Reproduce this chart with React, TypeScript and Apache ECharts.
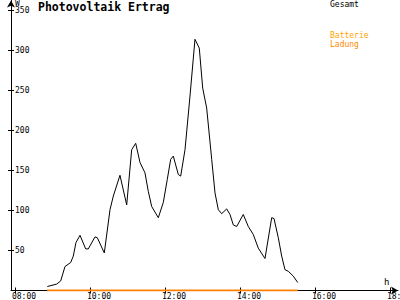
import React, { useEffect, useRef } from "react";
import * as echarts from "echarts";

const hours = [
  8.843, 9.093, 9.2, 9.315, 9.467, 9.536, 9.608, 9.715, 9.867, 9.936, 10.115, 10.176,
  10.363, 10.515, 10.603, 10.781, 10.96, 11.093, 11.2, 11.315, 11.448, 11.536, 11.627,
  11.803, 11.936, 12.043, 12.133, 12.203, 12.336, 12.4, 12.515, 12.648, 12.781, 12.896,
  12.987, 13.093, 13.227, 13.315, 13.403, 13.493, 13.627, 13.715, 13.803, 13.893, 14.069,
  14.203, 14.336, 14.469, 14.648, 14.827, 14.888, 15.003, 15.093, 15.181, 15.269, 15.403,
  15.52,
];
const gesamt = [
  5, 8, 12, 30, 35, 43, 60, 69, 52, 52, 67, 66,
  47, 101, 118, 144, 107, 176, 184, 160, 147, 124, 105,
  91, 110, 139, 164, 168, 145, 143, 176, 243, 314, 303,
  253, 228, 164, 122, 101, 96, 102, 95, 82, 80, 95,
  80, 70, 53, 40, 91, 90, 66, 43, 26, 24, 18,
  10,
];
const batteryHours = [8.84, 15.52];
const batteryValues = [0, 0];
const yTicks = [50, 100, 150, 200, 250, 300, 350];
const xTicks = [8, 10, 12, 14, 16, 18];

const MONO = "'DejaVu Sans Mono', monospace";
const X_MIN = 7.875;
const X_MAX = 18.195;
const Y_MAX = 362.5;

export default function App() {
  const ref = useRef<HTMLDivElement>(null);
  useEffect(() => {
    if (!ref.current) return;
    const chart = echarts.init(ref.current, null, { renderer: "svg" });
    const fmt = (v: number) => String(v).padStart(2, "0") + ":00";
    chart.setOption({
      animation: false,
      backgroundColor: "#fff",
      title: {
        text: "Photovoltaik Ertrag",
        left: 38,
        top: 1,
        padding: 0,
        textStyle: { fontFamily: MONO, fontWeight: "bold", fontSize: 11.5, color: "#000" },
      },
      legend: [
        {
          data: [{ name: "Gesamt", textStyle: { color: "#000" } }],
          left: 325,
          top: 0,
          padding: 0,
          icon: "none",
          itemWidth: 0,
          itemHeight: 0,
          selectedMode: false,
          textStyle: { fontFamily: MONO, fontSize: 8 },
        },
        {
          data: [{ name: "Batterie Ladung" }],
          left: 325,
          top: 31,
          padding: 0,
          icon: "none",
          itemWidth: 0,
          itemHeight: 0,
          selectedMode: false,
          formatter: () => "{a|Batterie}\n{b|Ladung}",
          textStyle: {
            fontFamily: MONO,
            fontSize: 8,
            rich: {
              a: { color: "#ffa500", fontFamily: MONO, fontSize: 8, lineHeight: 9 },
              b: { color: "#ff8800", fontFamily: MONO, fontSize: 8, lineHeight: 9 },
            },
          },
        },
      ],
      grid: {
        left: 11,
        right: 2,
        top: 0.5,
        bottom: 9.5,
        containLabel: false,
        outerBoundsMode: "none",
      },
      xAxis: [
        {
          type: "value",
          position: "bottom",
          min: X_MIN,
          max: X_MAX,
          axisLine: {
            show: true,
            onZero: false,
            symbol: ["none", "arrow"],
            symbolSize: [6, 7],
            lineStyle: { color: "#000", width: 1 },
          },
          axisTick: { show: false },
          axisLabel: { show: false },
          splitLine: { show: false },
        },
        {
          type: "value",
          position: "bottom",
          min: X_MIN,
          max: X_MAX,
          offset: -3,
          axisLine: { show: false, onZero: false },
          axisTick: { show: true, length: 6, customValues: xTicks, lineStyle: { color: "#000" } },
          axisLabel: { show: false },
          splitLine: { show: false },
        },
        {
          type: "value",
          position: "bottom",
          min: X_MIN + 0.1,
          max: X_MAX + 0.1,
          axisLine: { show: false, onZero: false },
          axisTick: { show: false },
          axisLabel: {
            show: true,
            customValues: xTicks,
            formatter: fmt,
            align: "left",
            margin: 2,
            fontFamily: MONO,
            fontSize: 8,
            color: "#000",
          },
          splitLine: { show: false },
        },
      ],
      yAxis: [
        {
          type: "value",
          position: "left",
          min: 0,
          max: Y_MAX,
          axisLine: {
            show: true,
            onZero: false,
            symbol: ["none", "arrow"],
            symbolSize: [6, 7],
            lineStyle: { color: "#000", width: 1 },
          },
          axisTick: { show: false },
          axisLabel: {
            show: true,
            inside: true,
            customValues: yTicks,
            margin: 4,
            fontFamily: MONO,
            fontSize: 8,
            color: "#000",
          },
          splitLine: { show: false },
        },
        {
          type: "value",
          position: "left",
          min: 0,
          max: Y_MAX,
          offset: -3,
          axisLine: { show: false, onZero: false },
          axisTick: { show: true, length: 6, customValues: yTicks, lineStyle: { color: "#000" } },
          axisLabel: { show: false },
          splitLine: { show: false },
        },
      ],
      graphic: [
        {
          type: "text",
          left: 15,
          top: -1,
          style: { text: "W", fontFamily: MONO, fontSize: 8, fill: "#000" },
        },
        {
          type: "text",
          left: 384,
          top: 277,
          style: { text: "h", fontFamily: MONO, fontSize: 9, fill: "#000" },
        },
      ],
      series: [
        {
          name: "Gesamt",
          type: "line",
          xAxisIndex: 0,
          yAxisIndex: 0,
          data: hours.map((h, i) => [h, gesamt[i]]),
          showSymbol: false,
          symbol: "none",
          lineStyle: { color: "#000", width: 1 },
          itemStyle: { color: "#000" },
        },
        {
          name: "Batterie Ladung",
          type: "line",
          xAxisIndex: 0,
          yAxisIndex: 0,
          data: batteryHours.map((h, i) => [h, batteryValues[i]]),
          showSymbol: false,
          symbol: "none",
          lineStyle: { color: "#ff8000", width: 2 },
          itemStyle: { color: "#ff8000" },
          z: 5,
        },
      ],
    });
    return () => chart.dispose();
  }, []);
  return <div ref={ref} style={{ width: 400, height: 300, position: "absolute", left: 0, top: 0 }} />;
}
